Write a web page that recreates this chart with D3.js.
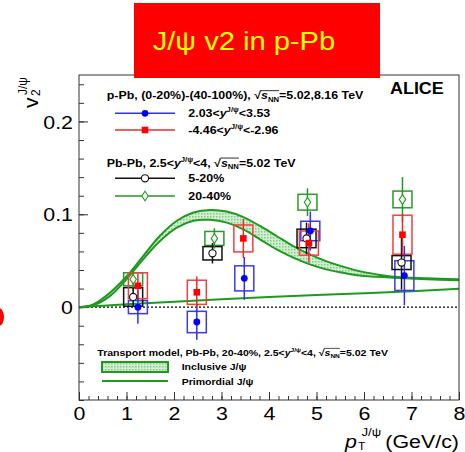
<!DOCTYPE html>
<html>
<head>
<meta charset="utf-8">
<script src="https://cdn.jsdelivr.net/npm/d3@7"></script>
<style>
  html, body { margin: 0; padding: 0; background: #fff; overflow: hidden; }
</style>
</head>
<body>
<svg id="chart" width="465" height="452"></svg>
<script>
// ---- p-Pb, (0-20%)-(40-100%), forward rapidity 2.03<y<3.53
const fwdPt   = [1.24, 2.48, 3.48, 4.87, 6.85];
const fwdV2   = [0.000, -0.016, 0.031, 0.082, 0.034];
const fwdStat = [0.018, 0.019, 0.023, 0.021, 0.032];
const fwdSyst = [0.007, 0.0115, 0.0135, 0.0105, 0.016];

// ---- p-Pb, backward rapidity -4.46<y<-2.96
const bwdPt   = [1.24, 2.48, 3.46, 4.84, 6.81];
const bwdV2   = [0.023, 0.016, 0.074, 0.069, 0.078];
const bwdStat = [0.013, 0.017, 0.021, 0.021, 0.022];
const bwdSyst = [0.014, 0.013, 0.0145, 0.013, 0.021];

// ---- Pb-Pb 5-20%
const cenAPt   = [1.14, 2.81, 4.79, 6.79];
const cenAV2   = [0.011, 0.058, 0.074, 0.048];
const cenAStat = [0.010, 0.011, 0.017, 0.029];
const cenASyst = [0.010, 0.0072, 0.010, 0.0075];

// ---- Pb-Pb 20-40%
const cenBPt   = [1.14, 2.85, 4.81, 6.81];
const cenBV2   = [0.030, 0.074, 0.113, 0.116];
const cenBStat = [0.012, 0.011, 0.015, 0.024];
const cenBSyst = [0.007, 0.0075, 0.0085, 0.009];

// ---- Transport model, Pb-Pb 20-40%
const modelPt    = [0, 0.3, 0.65, 1.0, 1.35, 1.7, 2.06, 2.41, 2.76, 3.11, 3.46, 3.81, 4.16, 4.51, 4.86, 5.2, 5.56, 5.9, 6.27, 6.62, 7.32, 8.0];
const inclUpper  = [0, 0.003, 0.0155, 0.033, 0.055, 0.0766, 0.093, 0.102, 0.1047, 0.103, 0.097, 0.0874, 0.0766, 0.0658, 0.0568, 0.0496, 0.0436, 0.0388, 0.0353, 0.0328, 0.031, 0.030];
const inclLower  = [0, 0.002, 0.0119, 0.030, 0.0515, 0.071, 0.0857, 0.093, 0.094, 0.091, 0.0838, 0.073, 0.0622, 0.0533, 0.046, 0.0407, 0.037, 0.034, 0.0328, 0.0317, 0.030, 0.029];
const primPt     = [0, 1, 2, 3, 4, 5, 6, 7, 8];
const primV2     = [0, 0.003, 0.0058, 0.0085, 0.011, 0.013, 0.015, 0.0172, 0.0198];

// ---- axis ticks
const xTickLabels = [0, 1, 2, 3, 4, 5, 6, 7, 8];
const yTickLabels = [0, 0.1, 0.2];

const FONT = "'Liberation Sans', Arial, Helvetica, sans-serif";
const SX = 1.15;          // horizontal text stretch
const BOX_HALF = 0.2;     // half width of systematic boxes in pT

const svg = d3.select("#chart");
const x = d3.scaleLinear().domain([0, 8]).range([79, 459]);
const y = d3.scaleLinear().domain([-0.1, 0.25]).range([400, 75]);

// rich text with sub/superscripts and a radical bar
function label(parent, px, py, parts, fs, opt = {}) {
  const sx = opt.sx ?? SX;
  const g = parent.append("g").attr("transform", `translate(${px},${py}) scale(${sx},1)`);
  const t = g.append("text")
    .attr("font-family", FONT).attr("font-size", fs)
    .attr("font-weight", opt.bold ? "bold" : "normal")
    .attr("fill", opt.fill || "#000")
    .attr("text-anchor", opt.anchor || "start");
  let shift = 0, idx = 0;
  const overs = [];
  parts.forEach(p => {
    if (typeof p === "string") p = { t: p };
    const target = p.sup ? -0.42 * fs : p.sub ? 0.25 * fs : 0;
    const ts = t.append("tspan").text(p.t).attr("dy", target - shift);
    shift = target;
    if (p.sup || p.sub) ts.attr("font-size", fs * 0.62);
    if (p.it) ts.attr("font-style", "italic");
    if (p.over) overs.push([idx, idx + p.t.length - 1]);
    idx += p.t.length;
  });
  if (overs.length) {
    const n = t.node();
    const a = overs[0][0], b = overs[overs.length - 1][1];
    const x0 = n.getStartPositionOfChar(a).x - 0.5;
    const x1 = n.getEndPositionOfChar(b).x;
    g.append("line").attr("x1", x0).attr("x2", x1)
      .attr("y1", -0.8 * fs).attr("y2", -0.8 * fs)
      .attr("stroke", opt.fill || "#000").attr("stroke-width", 0.07 * fs);
  }
  return g;
}

// ---- band fill pattern
const defs = svg.append("defs");
const pat = defs.append("pattern").attr("id", "dotfill")
  .attr("width", 3).attr("height", 3).attr("patternUnits", "userSpaceOnUse");
pat.append("rect").attr("width", 3).attr("height", 3).attr("fill", "#d2eed2");
pat.append("rect").attr("width", 1.5).attr("height", 1.5).attr("fill", "#86c886");

const GREEN = "#1e9a1e";

// ---- axes ticks
const minorX = d3.range(0, 8.001, 0.2);
const gxMinor = svg.append("g").attr("transform", "translate(0,400)")
  .call(d3.axisBottom(x).tickValues(minorX).tickSizeInner(-4).tickSizeOuter(0).tickFormat(""));
const gx = svg.append("g").attr("transform", "translate(0,400)")
  .call(d3.axisBottom(x).tickValues(xTickLabels).tickSizeInner(-8).tickSizeOuter(0).tickFormat(d3.format("d")));
const minorY = d3.range(-0.1, 0.2501, 0.02);
const gyMinor = svg.append("g").attr("transform", "translate(79,0)")
  .call(d3.axisLeft(y).tickValues(minorY).tickSizeInner(-5).tickSizeOuter(0).tickFormat(""));
const gy = svg.append("g").attr("transform", "translate(79,0)")
  .call(d3.axisLeft(y).tickValues(yTickLabels).tickSizeInner(-9).tickSizeOuter(0)
    .tickFormat(d => d === 0 ? "0" : d3.format(".1f")(d)));
[gxMinor, gx, gyMinor, gy].forEach(g => {
  g.select(".domain").remove();
  g.selectAll("line").attr("stroke", "#333").attr("stroke-width", 1);
});
gx.selectAll("text").attr("font-family", FONT).attr("font-size", 18.6).attr("fill", "#000")
  .attr("y", 7).attr("dy", "0.71em").attr("transform", `scale(${SX},1)`);
gy.selectAll("text").attr("font-family", FONT).attr("font-size", 18.6).attr("fill", "#000")
  .attr("x", 0).attr("dy", "0.36em")
  .attr("transform", `translate(-6,0) scale(${SX},1)`);

// ---- zero line
svg.append("line").attr("x1", x(0)).attr("x2", x(8)).attr("y1", y(0)).attr("y2", y(0))
  .attr("stroke", "#000").attr("stroke-width", 1.3).attr("stroke-dasharray", "2,2");

// ---- model curves
const modelRows = modelPt.map((p, i) => ({ p, lo: inclLower[i], hi: inclUpper[i] }));
svg.append("path").datum(modelRows)
  .attr("d", d3.area().x(d => x(d.p)).y0(d => y(d.lo)).y1(d => y(d.hi)).curve(d3.curveCatmullRom))
  .attr("fill", "url(#dotfill)").attr("stroke", "none");
["hi", "lo"].forEach(k => {
  svg.append("path").datum(modelRows)
    .attr("d", d3.line().x(d => x(d.p)).y(d => y(d[k])).curve(d3.curveCatmullRom))
    .attr("fill", "none").attr("stroke", GREEN).attr("stroke-width", 2);
});
svg.append("path").datum(primPt.map((p, i) => ({ p, v: primV2[i] })))
  .attr("d", d3.line().x(d => x(d.p)).y(d => y(d.v)).curve(d3.curveCatmullRom))
  .attr("fill", "none").attr("stroke", GREEN).attr("stroke-width", 2);

// ---- data series
const series = [
  { pt: cenBPt, v: cenBV2, stat: cenBStat, syst: cenBSyst, line: GREEN, box: "#2a9a2a", fill: "#fff", marker: "diamond" },
  { pt: fwdPt,  v: fwdV2,  stat: fwdStat,  syst: fwdSyst,  line: "#3030f0", box: "#3a3af0", fill: "#0000ff", marker: "circle" },
  { pt: cenAPt, v: cenAV2, stat: cenAStat, syst: cenASyst, line: "#111", box: "#111", fill: "#fff", marker: "ocircle" },
  { pt: bwdPt,  v: bwdV2,  stat: bwdStat,  syst: bwdSyst,  line: "#ee2a2a", box: "#f04040", fill: "#ff0000", marker: "square" }
];

function drawMarker(g, kind, s) {
  if (kind === "circle") {
    g.append("circle").attr("r", 3.4).attr("fill", s.fill);
  } else if (kind === "ocircle") {
    g.append("circle").attr("r", 3.6).attr("fill", "#fff").attr("stroke", s.line).attr("stroke-width", 1.1);
  } else if (kind === "square") {
    g.append("rect").attr("x", -3.3).attr("y", -3.3).attr("width", 6.6).attr("height", 6.6).attr("fill", s.fill);
  } else {
    g.append("path").attr("d", "M0,-4.8L3.2,0L0,4.8L-3.2,0Z")
      .attr("fill", "#fff").attr("stroke", s.line).attr("stroke-width", 1.1);
  }
}

const rows = s => s.pt.map((p, i) => ({ p, v: s.v[i], e: s.stat[i], sy: s.syst[i] }));
const gBoxes = svg.append("g"), gBars = svg.append("g"), gMarks = svg.append("g");
series.forEach(s => {
  gBoxes.selectAll(null).data(rows(s)).join("rect")
    .attr("x", d => x(d.p - BOX_HALF)).attr("width", d => x(d.p + BOX_HALF) - x(d.p - BOX_HALF))
    .attr("y", d => y(d.v + d.sy)).attr("height", d => y(d.v - d.sy) - y(d.v + d.sy))
    .attr("fill", "none").attr("stroke", s.box).attr("stroke-width", 1.5);
  gBars.selectAll(null).data(rows(s)).join("line")
    .attr("x1", d => x(d.p)).attr("x2", d => x(d.p))
    .attr("y1", d => y(d.v - d.e)).attr("y2", d => y(d.v + d.e))
    .attr("stroke", s.line).attr("stroke-width", 1.5);
});
series.forEach(s => {
  rows(s).forEach(d => {
    const g = gMarks.append("g").attr("transform", `translate(${x(d.p)},${y(d.v)})`);
    drawMarker(g, s.marker, s);
  });
});

// ---- frame
svg.append("rect").attr("x", 79).attr("y", 75).attr("width", 380).attr("height", 325)
  .attr("fill", "none").attr("stroke", "#333").attr("stroke-width", 1);

// ---- top legend
const LFS = 10.8;
label(svg, 106.7, 99.3, ["p-Pb, (0-20%)-(40-100%), ", "√", { t: "s", it: true, over: true }, { t: "NN", sub: true, over: true }, "=5.02,8.16 TeV"], LFS, { bold: true });
const legendRows = [
  { s: series[1], yy: 113.3, parts: ["2.03<", { t: "y", it: true }, { t: "J/ψ", sup: true }, "<3.53"] },
  { s: series[3], yy: 130,   parts: ["-4.46<", { t: "y", it: true }, { t: "J/ψ", sup: true }, "<-2.96"] },
  { s: series[2], yy: 178.3, parts: ["5-20%"] },
  { s: series[0], yy: 196,   parts: ["20-40%"] }
];
label(svg, 106.7, 166.7, ["Pb-Pb, 2.5<", { t: "y", it: true }, { t: "J/ψ", sup: true }, "<4, ", "√", { t: "s", it: true, over: true }, { t: "NN", sub: true, over: true }, "=5.02 TeV"], LFS, { bold: true });
legendRows.forEach(r => {
  svg.append("line").attr("x1", 115).attr("x2", 175).attr("y1", r.yy).attr("y2", r.yy)
    .attr("stroke", r.s.line).attr("stroke-width", 1.5);
  drawMarker(svg.append("g").attr("transform", `translate(145,${r.yy})`), r.s.marker, r.s);
  label(svg, 188.3, r.yy + 3.6, r.parts, LFS, { bold: true });
});

// ---- ALICE
label(svg, 390, 94, ["ALICE"], 15.6, { bold: true });

// ---- bottom legend (model)
const BFS = 9.15;
label(svg, 97.3, 355.7, ["Transport model, Pb-Pb, 20-40%, 2.5<", { t: "y", it: true }, { t: "J/ψ", sup: true }, "<4, ", "√", { t: "s", it: true, over: true }, { t: "NN", sub: true, over: true }, "=5.02 TeV"], BFS, { bold: true });
svg.append("rect").attr("x", 102).attr("y", 362).attr("width", 66).attr("height", 10)
  .attr("fill", "url(#dotfill)").attr("stroke", GREEN).attr("stroke-width", 2);
label(svg, 181.7, 369.5, ["Inclusive J/ψ"], BFS, { bold: true });
svg.append("line").attr("x1", 102).attr("x2", 168).attr("y1", 381).attr("y2", 381)
  .attr("stroke", GREEN).attr("stroke-width", 2);
label(svg, 181.7, 384.5, ["Primordial J/ψ"], BFS, { bold: true });

// ---- axis titles
label(svg, 345, 448, [{ t: "p", it: true }], 18.6);
label(svg, 358, 449.5, ["T"], 10.5);
label(svg, 361.5, 436, ["J/ψ"], 11.5);
label(svg, 459, 448, ["(GeV/c)"], 18.6, { anchor: "end" });

const yt = svg.append("g").attr("transform", "translate(38,108) rotate(-90)");
yt.append("text").attr("font-family", FONT).attr("font-size", 21).text("v");
yt.append("text").attr("font-family", FONT).attr("font-size", 12).attr("x", 12).attr("y", 2).text("2");
yt.append("text").attr("font-family", FONT).attr("font-size", 12).attr("x", 13).attr("y", -11).text("J/ψ");

// ---- title banner
svg.append("rect").attr("x", 134).attr("y", 3).attr("width", 246).attr("height", 75).attr("fill", "#ff0000");
label(svg, 152.7, 50, ["J/ψ v2 in p-Pb"], 25.3, { fill: "#ffff00" });

// ---- partial red marker at the left edge
svg.append("ellipse").attr("cx", -1).attr("cy", 317).attr("rx", 5).attr("ry", 9).attr("fill", "#ff0000");
</script>
</body>
</html>
